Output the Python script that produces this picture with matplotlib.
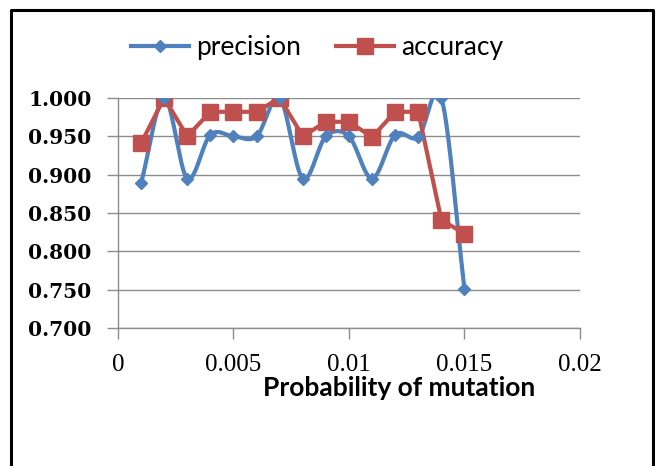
import numpy as np
import matplotlib
matplotlib.use("Agg")
import matplotlib.pyplot as plt
from matplotlib.lines import Line2D

# mutation probability vs. precision / accuracy
mutation = [0.001, 0.002, 0.003, 0.004, 0.005, 0.006, 0.007, 0.008,
            0.009, 0.010, 0.011, 0.012, 0.013, 0.014, 0.015]
precision = [0.889, 1.000, 0.895, 0.952, 0.950, 0.950, 1.000, 0.895,
             0.950, 0.950, 0.895, 0.952, 0.949, 1.000, 0.751]
accuracy = [0.941, 1.000, 0.950, 0.982, 0.982, 0.982, 1.000, 0.950,
            0.969, 0.969, 0.949, 0.982, 0.982, 0.841, 0.823]

BLUE = "#4F81BD"
RED = "#C0504D"


def smooth(x, y, n=20):
    # catmull-rom curve through the points, like a spreadsheet "smoothed line"
    x = np.asarray(x, float)
    y = np.asarray(y, float)
    px = np.concatenate([[2 * x[0] - x[1]], x, [2 * x[-1] - x[-2]]])
    py = np.concatenate([[2 * y[0] - y[1]], y, [2 * y[-1] - y[-2]]])
    xs, ys = [], []
    t = np.linspace(0, 1, n, endpoint=False)
    for i in range(1, len(px) - 2):
        for p, out in ((px, xs), (py, ys)):
            p0, p1, p2, p3 = p[i - 1], p[i], p[i + 1], p[i + 2]
            out.extend(0.5 * ((2 * p1) + (-p0 + p2) * t
                              + (2 * p0 - 5 * p1 + 4 * p2 - p3) * t ** 2
                              + (-p0 + 3 * p1 - 3 * p2 + p3) * t ** 3))
    xs.append(x[-1])
    ys.append(y[-1])
    return np.array(xs), np.array(ys)


fig = plt.figure(figsize=(6.58, 4.66), dpi=100)
ax = fig.add_axes([0.1793, 0.2961, 0.7021, 0.4936])

sx, sy = smooth(mutation, precision)
ax.plot(sx, sy, color=BLUE, lw=3, solid_capstyle="round", zorder=3)
ax.plot(mutation, precision, ls="none", marker="D", ms=6, color=BLUE, zorder=4)
ax.plot(mutation, accuracy, color=RED, lw=3, marker="s", ms=11, zorder=3)

ax.set_xlim(0, 0.02)
ax.set_ylim(0.7, 1.0)
ax.set_xticks([0, 0.005, 0.01, 0.015, 0.02])
ax.set_xticklabels(["0", "0.005", "0.01", "0.015", "0.02"],
                   family="Liberation Serif", fontsize=18)
ax.set_yticks(np.arange(0.70, 1.001, 0.05))
ax.set_yticklabels(["%.3f" % v for v in np.arange(0.70, 1.001, 0.05)],
                   family="DejaVu Serif", fontsize=14.5, fontweight="bold")
ax.yaxis.grid(True, color="#8c8c8c", lw=1)
ax.set_axisbelow(True)
for s in ("top", "right"):
    ax.spines[s].set_visible(False)
for s in ("left", "bottom"):
    ax.spines[s].set_color("#8c8c8c")
    ax.spines[s].set_linewidth(1)
ax.tick_params(axis="both", direction="out", length=8, color="#8c8c8c", width=1)
ax.tick_params(axis="x", pad=11)
ax.tick_params(axis="y", pad=11)

fig.text(0.606, 0.167, "Probability of mutation", ha="center", va="center",
         family="Lato", fontweight="bold", fontsize=19)

handles = [Line2D([], [], color=BLUE, lw=3, marker="D", ms=6),
           Line2D([], [], color=RED, lw=3, marker="s", ms=12)]
fig.legend(handles, ["precision", "accuracy"], loc="center",
           bbox_to_anchor=(0.482, 0.897), ncol=2, frameon=False,
           prop={"family": "Lato", "size": 19}, handlelength=2.2,
           handletextpad=0.25, columnspacing=1.35)

# chart frame (left, top, right edges)
fig.add_artist(Line2D([0.016, 0.016, 0.993, 0.993], [0.0, 0.978, 0.978, 0.0],
                      transform=fig.transFigure, color="black", lw=2.2))

fig.savefig("out.png", dpi=100)
